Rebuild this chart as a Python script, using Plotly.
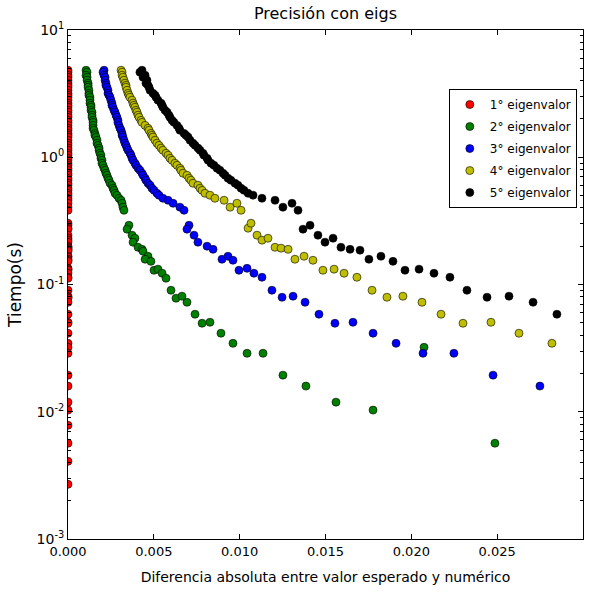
import plotly.graph_objects as go

# Shared times (s) of the dense upper part of every series
tiempos_densos = [4.83, 4.66, 4.41, 4.25, 4.03, 3.82, 3.68, 3.55, 3.36, 3.18,
                  3.07, 2.96, 2.81, 2.66, 2.56, 2.47, 2.34, 2.26, 2.14, 2.06,
                  1.95, 1.88, 1.78, 1.69, 1.63, 1.54, 1.49, 1.44, 1.36, 1.29,
                  1.24, 1.18, 1.135, 1.075, 1.037, 0.982, 0.947, 0.897, 0.865, 0.820,
                  0.790, 0.749, 0.722, 0.684, 0.660, 0.625, 0.603, 0.571, 0.550, 0.521,
                  0.503, 0.476, 0.459, 0.435, 0.405, 0.383]

# 1st eigenvalue (error always 0)
ev1_t_bajos = [0.303, 0.292, 0.277, 0.272, 0.244, 0.231, 0.223, 0.215, 0.200, 0.196,
               0.193, 0.189, 0.186, 0.1825, 0.1667, 0.164, 0.158, 0.155, 0.152, 0.134,
               0.132, 0.1294, 0.1226, 0.114, 0.112, 0.0901, 0.0809, 0.0794, 0.0780, 0.0725,
               0.0584, 0.0505, 0.0496, 0.0414, 0.0345, 0.0321, 0.0288, 0.0194, 0.0159, 0.0119,
               0.0103, 0.00783, 0.00566, 0.00408, 0.00269]

# 2nd eigenvalue
ev2_x_densos = [0.00105, 0.00111, 0.00105, 0.00111, 0.00111, 0.00117, 0.00117, 0.00117, 0.00122, 0.00122,
                0.00122, 0.00128, 0.00128, 0.00128, 0.00134, 0.00134, 0.00134, 0.00140, 0.00140, 0.00140,
                0.00146, 0.00146, 0.00146, 0.00146, 0.00151, 0.00157, 0.00157, 0.00163, 0.00169, 0.00169,
                0.00175, 0.00181, 0.00181, 0.00186, 0.00192, 0.00192, 0.00198, 0.00198, 0.00204, 0.00210,
                0.00216, 0.00221, 0.00227, 0.00233, 0.00239, 0.00245, 0.00256, 0.00262, 0.00268, 0.00274,
                0.00285, 0.00297, 0.00309, 0.00315, 0.00320, 0.00326]
ev2_x_bajos = [0.00355, 0.00344, 0.00373, 0.00390, 0.00379, 0.00408, 0.00431, 0.00437, 0.00466, 0.00449,
               0.00483, 0.00501, 0.00524, 0.00548, 0.00571, 0.00600, 0.00629, 0.00664, 0.00693, 0.00740,
               0.00781, 0.00827, 0.00891, 0.00961, 0.01043, 0.01136, 0.01252, 0.01386, 0.01561, 0.01777,
               0.02074, 0.02487]
ev2_t_bajos = [0.292, 0.272, 0.244, 0.231, 0.215, 0.196, 0.189, 0.1825, 0.1667, 0.158,
               0.152, 0.1294, 0.132, 0.1226, 0.112, 0.0901, 0.0780, 0.0809, 0.0725, 0.0584,
               0.0496, 0.0505, 0.0414, 0.0345, 0.0288, 0.0288, 0.0194, 0.0159, 0.0119, 0.0103,
               0.0321, 0.00566]

# 3rd eigenvalue
ev3_x_densos = [0.00210, 0.00204, 0.00210, 0.00216, 0.00216, 0.00221, 0.00221, 0.00227, 0.00233, 0.00233,
                0.00239, 0.00245, 0.00250, 0.00256, 0.00256, 0.00262, 0.00268, 0.00274, 0.00280, 0.00285,
                0.00291, 0.00291, 0.00297, 0.00303, 0.00309, 0.00315, 0.00315, 0.00320, 0.00326, 0.00332,
                0.00338, 0.00344, 0.00350, 0.00361, 0.00367, 0.00373, 0.00379, 0.00390, 0.00396, 0.00408,
                0.00419, 0.00431, 0.00437, 0.00449, 0.00454, 0.00466, 0.00478, 0.00489, 0.00501, 0.00518,
                0.00530, 0.00553, 0.00583, 0.00612, 0.00652, 0.00676]
ev3_x_bajos = [0.00705, 0.00693, 0.00734, 0.00757, 0.00810, 0.00845, 0.00897, 0.00932, 0.00961, 0.00996,
               0.01043, 0.01083, 0.01130, 0.01188, 0.01247, 0.01311, 0.01381, 0.01462, 0.01555, 0.01660,
               0.01777, 0.01911, 0.02068, 0.02248, 0.02476, 0.02749]
ev3_t_bajos = [0.292, 0.272, 0.244, 0.215, 0.200, 0.189, 0.158, 0.1667, 0.155, 0.1294,
               0.134, 0.1226, 0.114, 0.0901, 0.0794, 0.0809, 0.0725, 0.0584, 0.0496, 0.0505,
               0.0414, 0.0345, 0.0288, 0.0288, 0.0194, 0.0159]

# 4th eigenvalue
ev4_x_densos = [0.00309, 0.00315, 0.00315, 0.00320, 0.00326, 0.00332, 0.00338, 0.00338, 0.00344, 0.00350,
                0.00355, 0.00361, 0.00373, 0.00379, 0.00384, 0.00390, 0.00396, 0.00402, 0.00408, 0.00414,
                0.00425, 0.00431, 0.00449, 0.00466, 0.00472, 0.00483, 0.00489, 0.00495, 0.00507, 0.00518,
                0.00530, 0.00542, 0.00553, 0.00571, 0.00583, 0.00594, 0.00606, 0.00623, 0.00635, 0.00652,
                0.00658, 0.00670, 0.00693, 0.00705, 0.00716, 0.00728, 0.00757, 0.00769, 0.00781, 0.00798,
                0.00827, 0.00856, 0.00909, 0.00984, 0.00944, 0.01008]
ev4_x_bajos = [0.01049, 0.01066, 0.01101, 0.01130, 0.01165, 0.01206, 0.01241, 0.01282, 0.01322, 0.01375,
               0.01427, 0.01485, 0.01550, 0.01608, 0.01683, 0.01771, 0.01858, 0.01951, 0.02062, 0.02173,
               0.02301, 0.02464, 0.02627, 0.02819]
ev4_t_bajos = [0.277, 0.303, 0.244, 0.223, 0.231, 0.196, 0.193, 0.189, 0.158, 0.1667,
               0.155, 0.1294, 0.132, 0.1226, 0.114, 0.0901, 0.0794, 0.0809, 0.0725, 0.0584,
               0.0496, 0.0505, 0.0414, 0.0345]

# 5th eigenvalue
ev5_x_densos = [0.00431, 0.00419, 0.00449, 0.00437, 0.00460, 0.00454, 0.00466, 0.00472, 0.00478, 0.00495,
                0.00507, 0.00513, 0.00524, 0.00542, 0.00548, 0.00553, 0.00565, 0.00577, 0.00588, 0.00594,
                0.00606, 0.00617, 0.00635, 0.00647, 0.00652, 0.00676, 0.00687, 0.00699, 0.00711, 0.00728,
                0.00740, 0.00757, 0.00769, 0.00786, 0.00792, 0.00810, 0.00816, 0.00833, 0.00850, 0.00868,
                0.00885, 0.00903, 0.00915, 0.00932, 0.00949, 0.00973, 0.00990, 0.01008, 0.01025, 0.01049,
                0.01078, 0.01130, 0.01206, 0.01305, 0.01252, 0.01340]
ev5_x_bajos = [0.01369, 0.01410, 0.01456, 0.01497, 0.01544, 0.01590, 0.01643, 0.01701, 0.01753, 0.01823,
               0.01893, 0.01963, 0.02045, 0.02132, 0.02225, 0.02324, 0.02441, 0.02569, 0.02709, 0.02848]
ev5_t_bajos = [0.272, 0.292, 0.244, 0.215, 0.231, 0.196, 0.189, 0.186, 0.158, 0.1667,
               0.152, 0.1294, 0.132, 0.1226, 0.114, 0.0901, 0.0794, 0.0809, 0.0725, 0.0584]

nombres = ["1° eigenvalor", "2° eigenvalor", "3° eigenvalor", "4° eigenvalor", "5° eigenvalor"]
colores = ["#FF0000", "#008000", "#0000FF", "#BFBF00", "#000000"]

y_ticks = [0.001, 0.01, 0.1, 1, 10]
y_ticktext = ["10<sup>-3</sup>", "10<sup>-2</sup>", "10<sup>-1</sup>", "10<sup>0</sup>", "10<sup>1</sup>"]
y_minor = [m * d for d in (0.001, 0.01, 0.1, 1) for m in range(2, 10)]

ev1_t = tiempos_densos + ev1_t_bajos
series = [
    ([0.0] * len(ev1_t), ev1_t),
    (ev2_x_densos + ev2_x_bajos, tiempos_densos + ev2_t_bajos),
    (ev3_x_densos + ev3_x_bajos, tiempos_densos + ev3_t_bajos),
    (ev4_x_densos + ev4_x_bajos, tiempos_densos + ev4_t_bajos),
    (ev5_x_densos + ev5_x_bajos, tiempos_densos + ev5_t_bajos),
]

FONT = "DejaVu Sans"
fig = go.Figure()
for i, ((xs, ys), nombre, color) in enumerate(zip(series, nombres, colores)):
    fig.add_trace(go.Scatter(
        x=xs, y=ys, mode="markers", name=nombre, legendgroup="g%d" % i,
        marker=dict(symbol="circle", size=8, color=color,
                    line=dict(color="black", width=0.6)),
        cliponaxis=True,
    ))

fig.update_layout(
    width=601, height=594,
    margin=dict(l=68, r=18, t=30, b=55),
    paper_bgcolor="white", plot_bgcolor="white",
    font=dict(family=FONT, size=13, color="black"),
    title=dict(text="Precisión con eigs", x=0.5415, xanchor="center",
               y=0.978, yanchor="middle", font=dict(size=16)),
    legend=dict(x=0.988, xanchor="right", y=0.884, yanchor="top",
                bgcolor="white", bordercolor="black", borderwidth=1,
                font=dict(size=12), itemwidth=30, tracegroupgap=3),
    showlegend=True,
)
fig.update_xaxes(
    range=[0, 0.03], dtick=0.005, tick0=0, tickformat=".3f",
    showgrid=False, zeroline=False,
    showline=True, linecolor="black", linewidth=1, mirror="ticks",
    ticks="inside", ticklen=5, tickcolor="black",
    title=dict(text="Diferencia absoluta entre valor esperado y numérico",
               font=dict(size=14), standoff=14),
)
fig.update_yaxes(
    type="log", range=[-3, 1], tickmode="array", tickvals=y_ticks, ticktext=y_ticktext,
    tickfont=dict(size=14),
    showgrid=False, zeroline=False,
    showline=True, linecolor="black", linewidth=1, mirror="ticks",
    ticks="inside", ticklen=5, tickcolor="black",
    minor=dict(ticks="inside", ticklen=3, tickcolor="black", tickmode="array",
               tickvals=y_minor, showgrid=False),
    title=dict(text="Tiempo(s)", font=dict(size=17), standoff=10),
)

fig.write_html("out.html")
